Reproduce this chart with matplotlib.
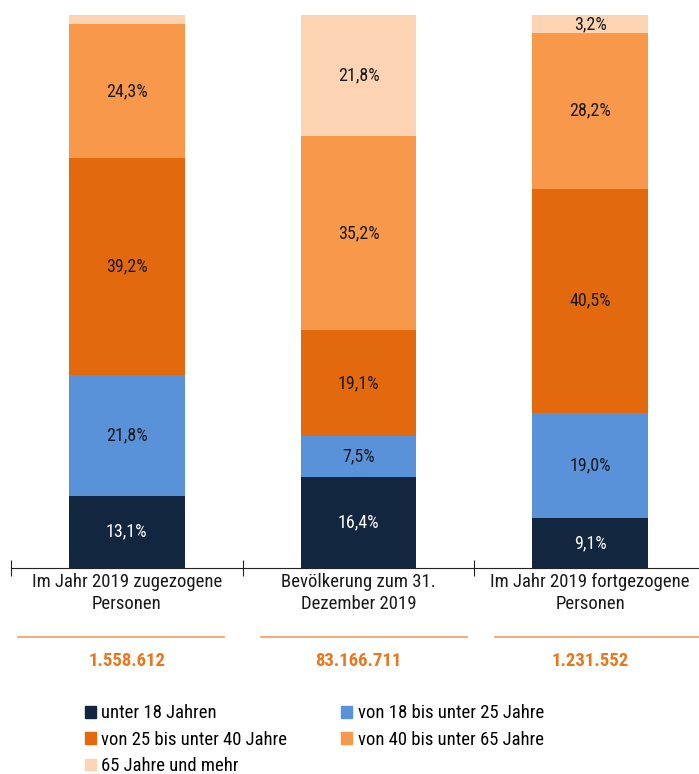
import matplotlib
matplotlib.use("Agg")
import matplotlib.pyplot as plt
import numpy as np
from matplotlib.lines import Line2D
from matplotlib.patches import Patch

plt.rcParams['font.family'] = ['Roboto Condensed', 'Liberation Sans Narrow', 'Roboto', 'DejaVu Sans']

# Daten
kategorien = ["Im Jahr 2019 zugezogene\nPersonen",
              "Bevölkerung zum 31.\nDezember 2019",
              "Im Jahr 2019 fortgezogene\nPersonen"]
summen = ["1.558.612", "83.166.711", "1.231.552"]
gruppen = ["unter 18 Jahren", "von 18 bis unter 25 Jahre",
           "von 25 bis unter 40 Jahre", "von 40 bis unter 65 Jahre",
           "65 Jahre und mehr"]
unter18 = [13.1, 16.4, 9.1]
von18bis25 = [21.8, 7.5, 19.0]
von25bis40 = [39.2, 19.1, 40.5]
von40bis65 = [24.3, 35.2, 28.2]
ab65 = [1.6, 21.8, 3.2]
ab65_label = ["", "21,8%", "3,2%"]

farben = ['#13263f', '#5a92d9', '#e3690f', '#f7984a', '#fcd4b3']
textfarben = ['white', '#1a1a1a', '#1a1a1a', '#1a1a1a', '#1a1a1a']

werte = [unter18, von18bis25, von25bis40, von40bis65, ab65]

fig = plt.figure(figsize=(6.99, 7.74), dpi=100)
ax = fig.add_axes([0.0157, 0.2661, 0.9843, 0.7145])

x = np.arange(len(kategorien))
unten = np.zeros(len(kategorien))
for i, serie in enumerate(werte):
    bars = ax.bar(x, serie, 0.5, bottom=unten, color=farben[i], label=gruppen[i])
    if i == 4:
        labels = ab65_label
    else:
        labels = [("%.1f%%" % v).replace(".", ",") for v in serie]
    ax.bar_label(bars, labels=labels, label_type='center', color=textfarben[i], fontsize=13)
    unten = unten + np.array(serie)

ax.set_xlim(-0.5, 2.47)
ax.set_ylim(0, 100)
for s in ['top', 'right', 'left']:
    ax.spines[s].set_visible(False)
ax.spines['bottom'].set_color('#222222')
ax.set_yticks([])
ax.set_xticks([-0.5, 0.5, 1.5])
ax.set_xticklabels([])
ax.tick_params(axis='x', direction='inout', length=12, color='#222222')

trans = matplotlib.transforms.blended_transform_factory(ax.transData, fig.transFigure)
linien = [(-0.47, 0.42), (-0.42, 0.47), (-0.41, 0.52)]
for i in range(len(kategorien)):
    fig.text(x[i], 1 - 593 / 774, kategorien[i], transform=trans, ha='center', va='center',
             fontsize=13.5, color='#1a1a1a', linespacing=1.3)
    fig.add_artist(Line2D([x[i] + linien[i][0], x[i] + linien[i][1]], [1 - 637 / 774] * 2,
                          transform=trans, color='#f5a66a', lw=1.3))
    fig.text(x[i], 1 - 661 / 774, summen[i], transform=trans, ha='center', va='center',
             fontsize=13.5, fontweight='bold', color='#e8771e')

handles = [Patch(color=c) for c in farben]
ordnung = [0, 2, 4, 1, 3]
fig.legend([handles[k] for k in ordnung], [gruppen[k] for k in ordnung], ncol=2,
           loc='upper left', bbox_to_anchor=(0.121, 0.09), frameon=False, fontsize=13.4,
           handlelength=0.6, handleheight=0.6, handletextpad=0.3, columnspacing=2.9,
           labelspacing=0.45, borderaxespad=0, borderpad=0)

fig.savefig("out.png", dpi=100)
